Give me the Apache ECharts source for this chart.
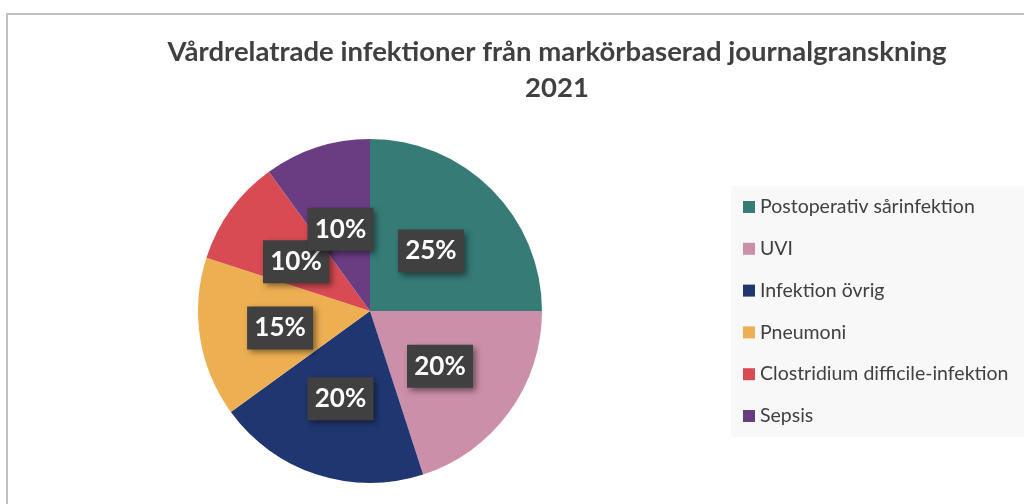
<!DOCTYPE html>
<html>
<head>
<meta charset="utf-8">
<script src="https://cdn.jsdelivr.net/npm/echarts@6/dist/echarts.min.js"></script>
<style>
  html, body { margin: 0; padding: 0; background: #fff; }
  #chart { width: 1024px; height: 504px; }
</style>
</head>
<body>
<div id="chart"></div>
<script>
const categories = ['Postoperativ sårinfektion', 'UVI', 'Infektion övrig', 'Pneumoni', 'Clostridium difficile-infektion', 'Sepsis'];
const values = [25, 20, 20, 15, 10, 10];
const colors = ['#367b76', '#cc8faa', '#1f3670', '#edaf52', '#d84b53', '#6a3d82'];

const chart = echarts.init(document.getElementById('chart'));

const option = {
  animation: false,
  color: colors,
  graphic: [
    {
      type: 'rect',
      shape: { x: 7, y: 14, width: 1200, height: 600 },
      style: { fill: 'none', stroke: '#c0c0c0', lineWidth: 2 },
      silent: true
    }
  ],
  title: {
    text: 'Vårdrelatrade infektioner från markörbaserad journalgranskning\n2021',
    left: 552,
    top: 29,
    textAlign: 'center',
    textStyle: {
      fontFamily: 'Lato',
      fontWeight: 'bold',
      fontSize: 27.5,
      lineHeight: 36,
      color: '#404040'
    }
  },
  legend: {
    orient: 'vertical',
    left: 731,
    top: 186,
    width: 400,
    padding: [11, 80, 11, 12],
    backgroundColor: '#f8f8f8',
    itemWidth: 12,
    itemHeight: 12,
    itemGap: 21.8,
    itemTextGap: 5,
    icon: 'rect',
    data: categories,
    textStyle: {
      fontFamily: 'Lato',
      fontSize: 19.5,
      lineHeight: 20,
      color: '#404040'
    }
  },
  series: [
    {
      type: 'pie',
      center: [370, 311],
      radius: 172,
      startAngle: 90,
      clockwise: true,
      data: categories.map((name, i) => ({ name: name, value: values[i] })),
      itemStyle: { borderWidth: 0 },
      labelLayout: { hideOverlap: false },
      label: {
        show: true,
        position: 'inside',
        offset: [-2, 3],
        formatter: (p) => p.value + '%',
        fontFamily: 'Lato',
        fontWeight: 'bold',
        fontSize: 26,
        color: '#ffffff',
        backgroundColor: '#404040',
        width: 66,
        height: 43,
        lineHeight: 43,
        align: 'center',
        shadowColor: 'rgba(0,0,0,0.45)',
        shadowBlur: 6,
        shadowOffsetX: 3,
        shadowOffsetY: 3
      },
      labelLine: { show: false },
      emphasis: { disabled: true }
    }
  ]
};

chart.setOption(option);
</script>
</body>
</html>
